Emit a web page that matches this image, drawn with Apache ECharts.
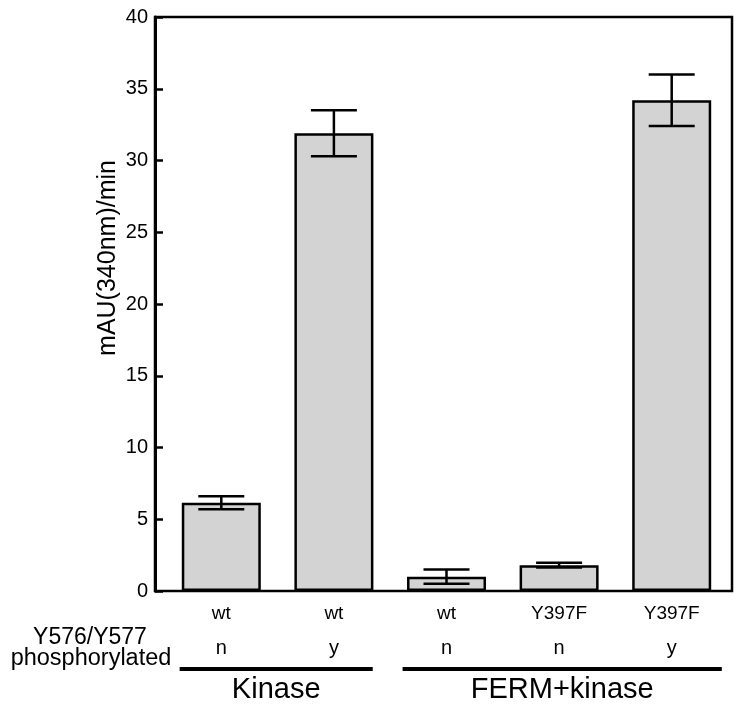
<!DOCTYPE html>
<html>
<head>
<meta charset="utf-8">
<script src="https://cdn.jsdelivr.net/npm/echarts@6/dist/echarts.min.js"></script>
<style>
html,body{margin:0;padding:0;background:#fff;}
#chart{width:738px;height:709px;}
</style>
</head>
<body>
<div id="chart"></div>
<script>
const categories = ['wt', 'wt', 'wt', 'Y397F', 'Y397F'];
const phosphorylated = ['n', 'y', 'n', 'n', 'y'];
const values = [6.15, 31.9, 1.0, 1.8, 34.2];
const errors = [0.45, 1.6, 0.5, 0.17, 1.8];
const yMin = 0, yMax = 40, yInterval = 5;
const groupNames = ['Kinase', 'FERM+kinase'];
const groupSpans = [[-0.37, 1.345], [1.61, 4.445]];
const rowTitle = ['Y576/Y577', 'phosphorylated'];
const yName = 'mAU(340nm)/min';

const FONT = "'Liberation Sans', Arial, Helvetica, sans-serif";
const chart = echarts.init(document.getElementById('chart'));

const option = {
  animation: false,
  backgroundColor: '#fff',
  grid: [
    {left: 155, top: 17, right: 6, bottom: 118, show: true, borderColor: '#000', borderWidth: 2.5, backgroundColor: 'transparent'},
    {left: 165, top: 17, right: 10, bottom: 118}
  ],
  xAxis: [
    {type: 'value', gridIndex: 0, show: false, min: 0, max: 1},
    {type: 'category', gridIndex: 1, data: categories,
     axisLine: {show: false}, axisTick: {show: false},
     axisLabel: {
       margin: 6, color: '#000', fontFamily: FONT,
       formatter: function (val, idx) { return '{a|' + val + '}\n{b|' + phosphorylated[idx] + '}'; },
       rich: {
         a: {fontSize: 19, lineHeight: 34, fontFamily: FONT, color: '#000'},
         b: {fontSize: 20, lineHeight: 34, fontFamily: FONT, color: '#000'}
       }
     }}
  ],
  yAxis: [
    {type: 'value', gridIndex: 0, min: yMin, max: yMax, interval: yInterval,
     axisLine: {show: true, lineStyle: {color: '#000', width: 3}},
     axisTick: {show: true, inside: true, length: 8, lineStyle: {color: '#000', width: 2.5}},
     axisLabel: {color: '#000', fontSize: 20, fontFamily: FONT, margin: 7},
     splitLine: {show: false}},
    {type: 'value', gridIndex: 1, min: yMin, max: yMax, interval: yInterval, show: false, splitLine: {show: false}}
  ],
  series: [
    {type: 'bar', xAxisIndex: 1, yAxisIndex: 1, data: values, barWidth: 79,
     itemStyle: {color: '#d3d3d3', borderColor: '#000', borderWidth: 2.5}},
    {type: 'custom', xAxisIndex: 1, yAxisIndex: 1, z: 5,
     data: values.map(function (v, i) { return [i, v, errors[i]]; }),
     encode: {x: 0, y: 1},
     renderItem: function (params, api) {
       const x = api.value(0), v = api.value(1), e = api.value(2);
       const top = api.coord([x, v + e]);
       const bot = api.coord([x, v - e]);
       const hw = 23;
       const st = {stroke: '#000', lineWidth: 2.5};
       return {type: 'group', children: [
         {type: 'line', shape: {x1: top[0], y1: top[1], x2: bot[0], y2: bot[1]}, style: st},
         {type: 'line', shape: {x1: top[0] - hw, y1: top[1], x2: top[0] + hw, y2: top[1]}, style: st},
         {type: 'line', shape: {x1: bot[0] - hw, y1: bot[1], x2: bot[0] + hw, y2: bot[1]}, style: st}
       ]};
     }}
  ]
};
chart.setOption(option);

function catX(f) {
  const c0 = chart.convertToPixel({xAxisIndex: 1}, 0);
  const c1 = chart.convertToPixel({xAxisIndex: 1}, 1);
  return c0 + f * (c1 - c0);
}
const g = [];
groupSpans.forEach(function (span, i) {
  const x1 = catX(span[0]), x2 = catX(span[1]);
  g.push({type: 'line', shape: {x1: x1, y1: 669, x2: x2, y2: 669}, style: {stroke: '#000', lineWidth: 4}});
  g.push({type: 'text', x: (x1 + x2) / 2, y: 690, style: {text: groupNames[i], fontSize: 29, fontFamily: FONT, fill: '#000', align: 'center', verticalAlign: 'middle'}});
});
g.push({type: 'text', x: 90, y: 638, style: {text: rowTitle[0], fontSize: 23, fontFamily: FONT, fill: '#000', align: 'center', verticalAlign: 'middle'}});
g.push({type: 'text', x: 91, y: 659, style: {text: rowTitle[1], fontSize: 23.5, fontFamily: FONT, fill: '#000', align: 'center', verticalAlign: 'middle'}});
g.push({type: 'text', x: 108, y: 258, rotation: Math.PI / 2, style: {text: yName, fontSize: 25, fontFamily: FONT, fill: '#000', align: 'center', verticalAlign: 'middle'}});
chart.setOption({graphic: g});
</script>
</body>
</html>
